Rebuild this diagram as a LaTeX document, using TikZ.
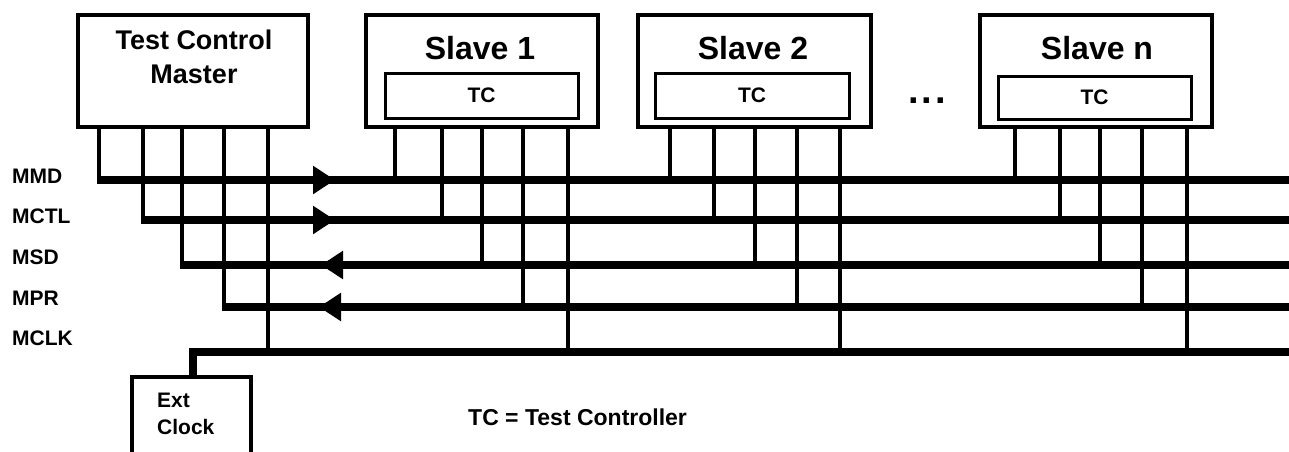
\documentclass[tikz,border=0pt]{standalone}
\usepackage{fontspec}
\setmainfont{Liberation Sans}
\usetikzlibrary{arrows.meta}
\begin{document}
\begin{tikzpicture}[x=1pt,y=-1pt,
  box/.style={draw,line width=4pt,anchor=north west,inner sep=0pt,outer sep=0pt},
  tcbox/.style={draw,line width=3pt,anchor=north west,inner sep=0pt,outer sep=0pt,
    font=\fontsize{21}{24}\selectfont\bfseries},
  title/.style={font=\fontsize{32}{36}\selectfont\bfseries,inner sep=0pt},
  mtitle/.style={font=\fontsize{27}{34}\selectfont\bfseries,align=center,inner sep=0pt},
  sig/.style={font=\fontsize{21}{24}\selectfont\bfseries,anchor=west,inner sep=0pt},
  stub/.style={line width=4pt},
  bus/.style={line width=8pt,line join=miter},
  tipR/.style={bus,-{Triangle[length=22pt,width=27pt]}},
]
\clip (0,0) rectangle (1289,451);
\useasboundingbox (0,0) rectangle (1289,451);

% bus end points at the right edge
\coordinate (MMD)  at (1289,180);
\coordinate (MCTL) at (1289,220);
\coordinate (MSD)  at (1289,265);
\coordinate (MPR)  at (1289,307);
\coordinate (MCLK) at (1289,352);

% master and slaves
\node[box,minimum width=230,minimum height=112] (master) at (78,15) {};
\node[mtitle,anchor=north] (mtxt) at (194,30) {Test Control\\Master};

\node[box,minimum width=232,minimum height=112] (s1) at (366,15) {};
\node[title] (s1txt) at (480,48) {Slave 1};
\node[tcbox,minimum width=193,minimum height=45] (tc1) at (385,73) {TC};

\node[box,minimum width=233,minimum height=112] (s2) at (638,15) {};
\node[title] (s2txt) at (753,48) {Slave 2};
\node[tcbox,minimum width=194,minimum height=45] (tc2) at (655,73) {TC};

\node[box,minimum width=232,minimum height=112] (sn) at (980,15) {};
\node[title] (sntxt) at (1097,48) {Slave n};
\node[tcbox,minimum width=193,minimum height=43] (tcn) at (998,76) {TC};

\node[font=\fontsize{38}{40}\selectfont\bfseries,inner sep=0pt,anchor=base] (dots) at (927,103) {.\kern3pt.\kern3pt.};

% external clock
\node[box,minimum width=119,minimum height=100] (ext) at (132,377) {};
\node[font=\fontsize{21}{27}\selectfont\bfseries,align=left,anchor=north west,inner sep=0pt]
  (exttxt) at (157,393) {Ext\\Clock};

% signal names
\node[sig] (lmmd)  at (12,176) {MMD};
\node[sig] (lmctl) at (12,216) {MCTL};
\node[sig] (lmsd)  at (12,257) {MSD};
\node[sig] (lmpr)  at (12,298) {MPR};
\node[sig] (lmclk) at (12,338) {MCLK};

\node[font=\fontsize{23}{26}\selectfont\bfseries,anchor=west,inner sep=0pt] (legend) at (468,417) {TC = Test Controller};

% stubs from the master
\foreach \x/\b in {99/MMD,143/MCTL,182/MSD,224/MPR,268/MCLK}
  \draw[stub] (\x,0 |- master.south) -- (\x,0 |- \b);
% stubs from the slaves
\foreach \x/\b in {395/MMD,442/MCTL,482/MSD,523/MPR,568/MCLK}
  \draw[stub] (\x,0 |- s1.south) -- (\x,0 |- \b);
\foreach \x/\b in {670/MMD,714/MCTL,755/MSD,797/MPR,840/MCLK}
  \draw[stub] (\x,0 |- s2.south) -- (\x,0 |- \b);
\foreach \x/\b in {1015/MMD,1060/MCTL,1100/MSD,1142/MPR,1187/MCLK}
  \draw[stub] (\x,0 |- sn.south) -- (\x,0 |- \b);

% buses
\draw[bus] (97,0 |- MMD) -- (MMD);
\draw[bus] (141,0 |- MCTL) -- (MCTL);
\draw[bus] (180,0 |- MSD) -- (MSD);
\draw[bus] (222,0 |- MPR) -- (MPR);
\draw[bus] (193,0 |- ext.north) |- (MCLK);

% direction marks
\draw[tipR] (290,0 |- MMD) -- (335,0 |- MMD);
\draw[tipR] (290,0 |- MCTL) -- (335,0 |- MCTL);
\draw[tipR] (370,0 |- MSD) -- (321,0 |- MSD);
\draw[tipR] (370,0 |- MPR) -- (319,0 |- MPR);
\end{tikzpicture}
\end{document}
